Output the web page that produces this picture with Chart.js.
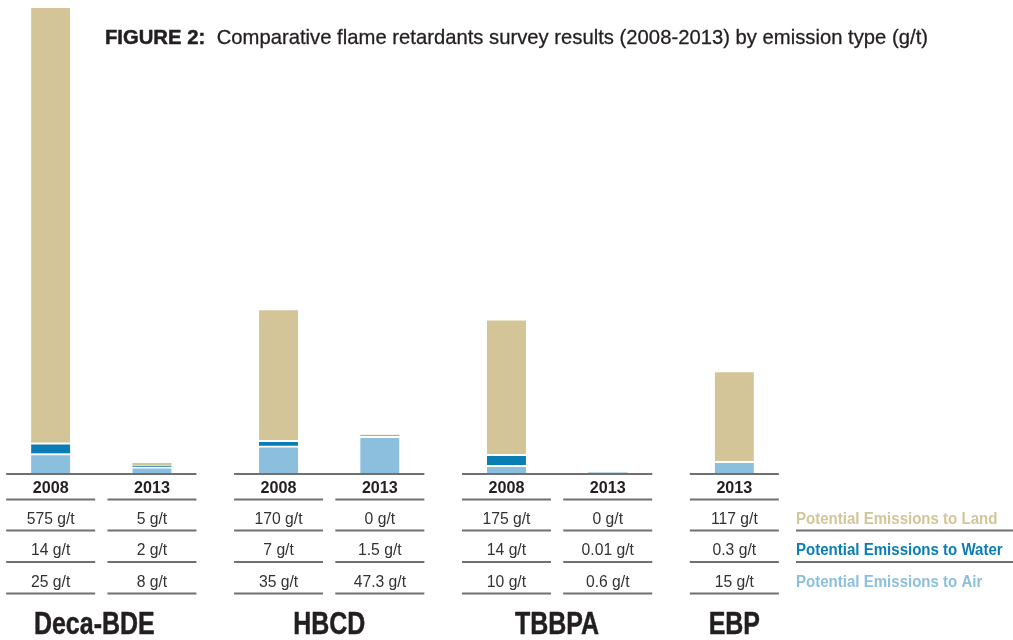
<!DOCTYPE html>
<html>
<head>
<meta charset="utf-8">
<script src="https://cdn.jsdelivr.net/npm/chart.js@4/dist/chart.umd.min.js"></script>
<style>
  body { margin: 0; background: #fff; }
</style>
</head>
<body>
<canvas id="graphCanvas" width="1013" height="640"></canvas>
<script>
// values (g/t)
const compounds = ['Deca-BDE', 'HBCD', 'TBBPA', 'EBP'];
const columnCompound = [0, 0, 1, 1, 2, 2, 3];
const columnYears = ['2008', '2013', '2008', '2013', '2008', '2013', '2013'];
const landValues = [575, 5, 170, 0, 175, 0, 117];
const waterValues = [14, 2, 7, 1.5, 14, 0.01, 0.3];
const airValues = [25, 8, 35, 47.3, 10, 0.6, 15];
const seriesNames = ['Potential Emissions to Land', 'Potential Emissions to Water', 'Potential Emissions to Air'];
const seriesColors = ['#d3c598', '#0b7db5', '#8bbfdd'];

// layout: columns sit on a grid of 28 slots, wider gap between compounds
const columnSlot = [0, 4, 9, 13, 18, 22, 27];
const slotCount = 28;

const FONT = '"Liberation Sans", Arial, sans-serif';
const INK = '#231f20';
const RULE = '#707071';

function spread(values) {
    var out = new Array(slotCount).fill(null);
    for (var i = 0; i < values.length; i++) out[columnSlot[i]] = values[i];
    return out;
}

// draw text squeezed horizontally to look like a condensed face
function narrowText(ctx, text, x, y, font, sx, align, heavy) {
    ctx.save();
    ctx.font = font;
    ctx.textBaseline = 'middle';
    ctx.textAlign = align || 'center';
    ctx.translate(x, y);
    ctx.scale(sx, 1);
    ctx.fillText(text, 0, 0);
    if (heavy) {
        ctx.strokeStyle = ctx.fillStyle;
        ctx.lineWidth = heavy;
        ctx.lineJoin = 'round';
        ctx.strokeText(text, 0, 0);
    }
    ctx.restore();
}

const tablePlugin = {
    id: 'table',
    afterDraw: function (chart) {
        const ctx = chart.ctx;
        const xs = chart.scales.x;
        const base = chart.scales.y.getPixelForValue(0);
        const half = 44.5;
        const cx = columnSlot.map(function (s) { return xs.getPixelForValue(s); });

        function rule(x1, x2, y) {
            ctx.beginPath();
            ctx.moveTo(x1, y);
            ctx.lineTo(x2, y);
            ctx.stroke();
        }
        ctx.save();
        ctx.strokeStyle = RULE;
        ctx.lineWidth = 2;
        ctx.fillStyle = INK;

        // base line per compound and its name
        compounds.forEach(function (name, g) {
            var cols = [];
            columnCompound.forEach(function (c, i) { if (c === g) cols.push(cx[i]); });
            var left = Math.min.apply(null, cols) - half;
            var right = Math.max.apply(null, cols) + half;
            ctx.strokeStyle = RULE;
            ctx.lineWidth = 2;
            rule(left, right, base + 1);
            ctx.fillStyle = INK;
            narrowText(ctx, name, (left + right) / 2 - (g === 0 ? 7 : 0), 625, 'bold 32px ' + FONT, 0.78, 'center', 0.5);
        });

        // year header + value rows
        var rows = [landValues, waterValues, airValues];
        var rowY = [520, 551, 583];
        var lineY = [530.5, 562, 593.5];
        cx.forEach(function (x, i) {
            ctx.fillStyle = INK;
            narrowText(ctx, columnYears[i], x, 488, 'bold 17px ' + FONT, 0.95);
            rule(x - half, x + half, 499.5);
            rows.forEach(function (r, k) {
                ctx.fillStyle = '#333132';
                narrowText(ctx, r[i] + ' g/t', x, rowY[k], '16px ' + FONT, 0.98);
                rule(x - half, x + half, lineY[k]);
            });
        });

        // legend on the right of the table
        seriesNames.forEach(function (name, k) {
            ctx.fillStyle = seriesColors[k];
            narrowText(ctx, name, 796, rowY[k], 'bold 16px ' + FONT, 0.94, 'left');
            if (k < 2) rule(796, 1013, lineY[k]);
        });

        // title, squeezed to the width it has in the figure
        var lead = 'FIGURE 2:';
        var rest = 'Comparative flame retardants survey results (2008-2013) by emission type (g/t)';
        ctx.font = 'bold 21px ' + FONT;
        var w1 = ctx.measureText(lead).width;
        ctx.font = '21px ' + FONT;
        var w2 = ctx.measureText(rest).width;
        var sx = 823 / (w1 + 12 + w2);
        ctx.fillStyle = INK;
        narrowText(ctx, lead, 105, 38, 'bold 21px ' + FONT, sx, 'left', 0.5);
        narrowText(ctx, rest, 105 + (w1 + 12) * sx, 38, '21px ' + FONT, sx, 'left', 0.3);
        ctx.restore();
    }
};

const ctx = document.getElementById('graphCanvas').getContext('2d');
const myChart = new Chart(ctx, {
    type: 'bar',
    data: {
        labels: new Array(slotCount).fill(''),
        datasets: [
            { label: seriesNames[2], data: spread(airValues), backgroundColor: seriesColors[2] },
            { label: seriesNames[1], data: spread(waterValues), backgroundColor: seriesColors[1] },
            { label: seriesNames[0], data: spread(landValues), backgroundColor: seriesColors[0] }
        ].map(function (d) {
            d.borderColor = '#ffffff';
            d.borderWidth = { top: 2, right: 0, bottom: 0, left: 0 };
            d.borderSkipped = false;
            d.barThickness = 39;
            d.clip = { left: 30, top: 0, right: 30, bottom: 0 };
            return d;
        })
    },
    options: {
        responsive: false,
        animation: false,
        layout: { padding: { left: 38, right: 266, top: 8, bottom: 167 } },
        plugins: {
            legend: { display: false },
            tooltip: { enabled: false }
        },
        scales: {
            x: { stacked: true, display: false },
            // top of the tallest bar runs off the top of the figure
            y: { stacked: true, display: false, min: 0, max: 600 }
        }
    },
    plugins: [tablePlugin]
});
</script>
</body>
</html>
